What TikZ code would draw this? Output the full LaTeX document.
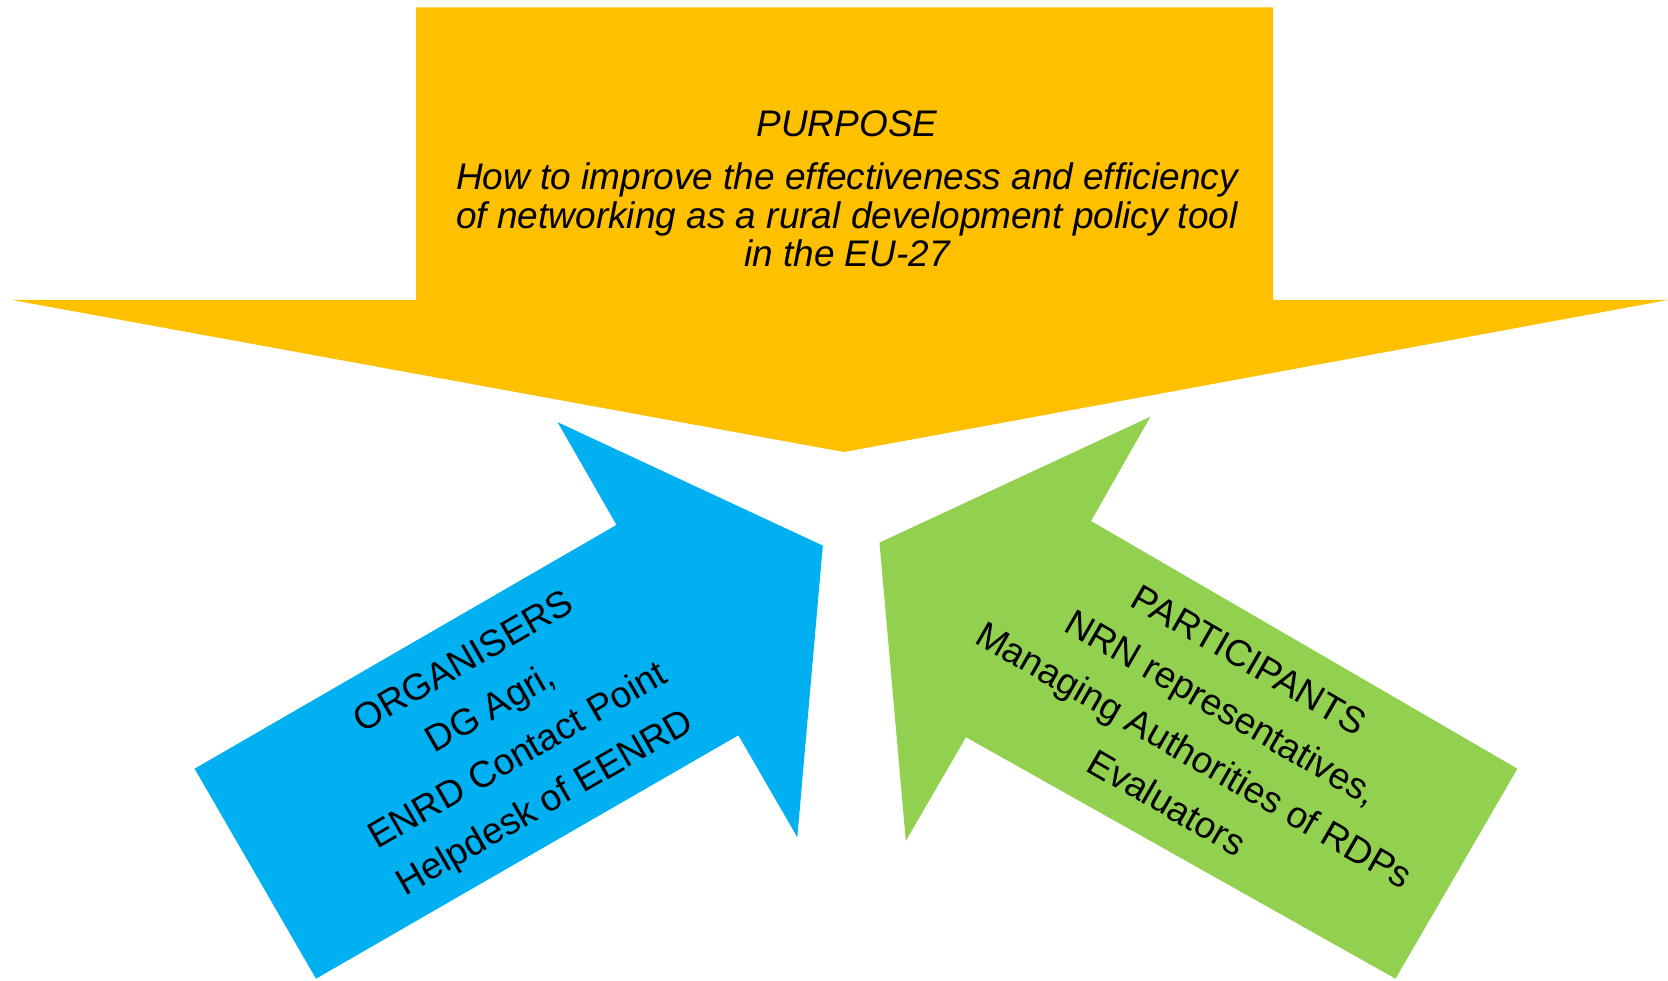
\documentclass[tikz,border=0pt]{standalone}
\usepackage{fontspec}
\setmainfont{Liberation Sans}
\definecolor{pyellow}{HTML}{FFC000}
\definecolor{pblue}{HTML}{00B0F0}
\definecolor{pgreen}{HTML}{92D050}
\begin{document}
\begin{tikzpicture}[x=1pt,y=-1pt,
  txt/.style={font=\fontsize{37}{38.5}\selectfont, inner sep=0pt, anchor=base},
  ptxt/.style={txt, font=\fontsize{37}{38.5}\selectfont\itshape},
  btxt/.style={txt, rotate=30},
  gtxt/.style={txt, rotate=-30}]
\useasboundingbox (0,0) rectangle (1668,981);
% purpose arrow
\fill[pyellow] (416,7.5) -- (1273,7.5) -- (1273,300) -- (1668,300) -- (844,452)
  -- (12,300) -- (416,300) -- cycle;
% organisers arrow
\fill[pblue] (822.8,545.6) -- (797.3,837.2) -- (738.4,735.3) -- (316,978.7)
  -- (194.6,768.7) -- (616.5,524.9) -- (557.6,422.2) -- cycle;
% participants arrow
\fill[pgreen] (879.5,542.6) -- (1150.4,416.7) -- (1091,521) -- (1517.4,768.7)
  -- (1395.5,978.7) -- (966,737.2) -- (905.8,840.9) -- cycle;
% purpose text
\node[ptxt] (p0) at (847,136.7) {PURPOSE};
\node[ptxt] (p1) at (847,190) {How to improve the effectiveness and efficiency};
\node[ptxt] (p2) at (847,228.5) {of networking as a rural development policy tool};
\node[ptxt] (p3) at (847,267) {in the EU-27};
% organisers text
\node[btxt] (b0) at (469.2,671.5) {ORGANISERS};
\node[btxt] (b1) at (496.4,718.5) {DG Agri,};
\node[btxt] (b2) at (523.5,765.5) {ENRD Contact Point};
\node[btxt] (b3) at (550.7,812.5) {Helpdesk of EENRD};
% participants text
\node[gtxt] (g0) at (1242.9,670.9) {PARTICIPANTS};
\node[gtxt] (g1) at (1215.4,718.5) {NRN representatives,};
\node[gtxt] (g2) at (1187.9,766.1) {Managing Authorities of RDPs};
\node[gtxt] (g3) at (1160.4,813.7) {Evaluators};
\end{tikzpicture}
\end{document}
